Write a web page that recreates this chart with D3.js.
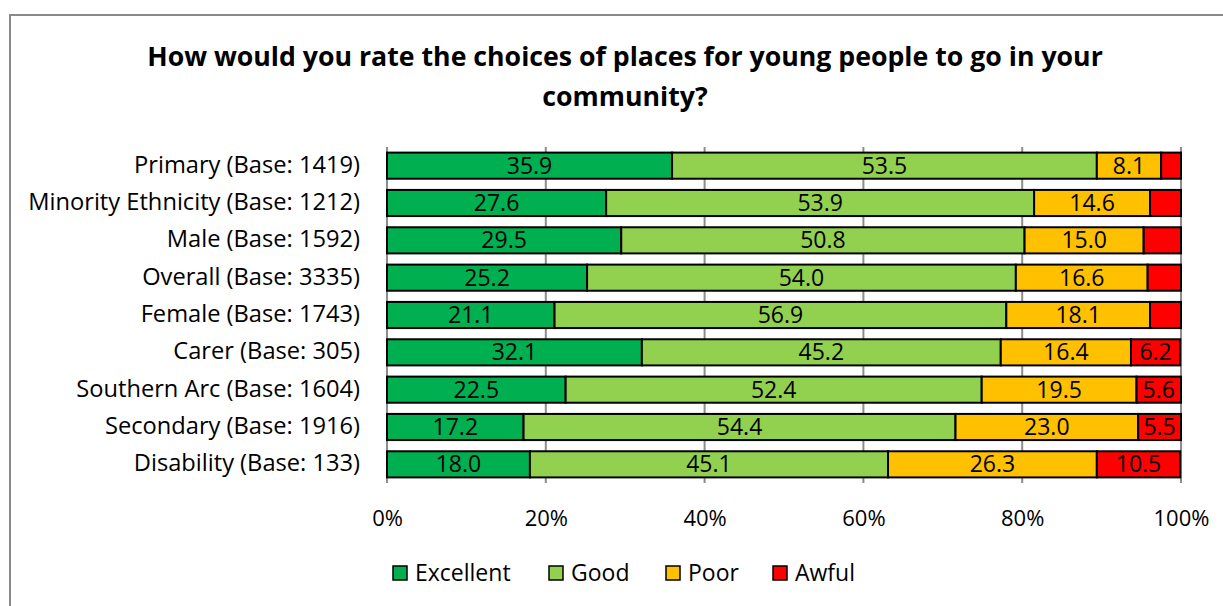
<!DOCTYPE html>
<html>
<head>
<meta charset="utf-8">
<title>Choices of places for young people</title>
<script src="https://cdnjs.cloudflare.com/ajax/libs/d3/7.8.5/d3.min.js"></script>
<style>
  body { margin: 0; background: #fff; }
  svg text { font-family: "Open Sans", Lato, sans-serif; fill: #000; }
</style>
</head>
<body>
<div id="chart"></div>
<script>
// data (percent)
var categories = ["Primary (Base: 1419)", "Minority Ethnicity (Base: 1212)", "Male (Base: 1592)",
  "Overall (Base: 3335)", "Female (Base: 1743)", "Carer (Base: 305)",
  "Southern Arc (Base: 1604)", "Secondary (Base: 1916)", "Disability (Base: 133)"];
var excellent = [35.9, 27.6, 29.5, 25.2, 21.1, 32.1, 22.5, 17.2, 18.0];
var good      = [53.5, 53.9, 50.8, 54.0, 56.9, 45.2, 52.4, 54.4, 45.1];
var poor      = [8.1, 14.6, 15.0, 16.6, 18.1, 16.4, 19.5, 23.0, 26.3];
var awful     = [2.5, 3.9, 4.7, 4.2, 3.9, 6.2, 5.6, 5.5, 10.5];
var seriesNames = ["Excellent", "Good", "Poor", "Awful"];
var tickValues = [0, 20, 40, 60, 80, 100];

var W = 1223, H = 606;
var colors = {Excellent: "#00B050", Good: "#92D050", Poor: "#FFC000", Awful: "#FF0000"};
var margin = {left: 387, right: 42, top: 147, bottom: 123};

var svg = d3.select("#chart").append("svg")
    .attr("width", W).attr("height", H);

// chart frame
svg.append("rect")
    .attr("x", 10).attr("y", 15).attr("width", 1240).attr("height", 620)
    .attr("fill", "#fff").attr("stroke", "#898989").attr("stroke-width", 2);

// title
var title = svg.append("text")
    .attr("text-anchor", "middle")
    .attr("font-size", 25).attr("font-weight", "bold");
title.append("tspan").attr("x", 625).attr("y", 66)
    .text("How would you rate the choices of places for young people to go in your");
title.append("tspan").attr("x", 625).attr("y", 106).text("community?");
// fit the first line to the width it has in the picture
var t1 = title.select("tspan").node().getComputedTextLength();
title.attr("font-size", 25 * 956 / t1);

var rows = categories.map(function(c, i) {
  return {cat: c, Excellent: excellent[i], Good: good[i], Poor: poor[i], Awful: awful[i]};
});

var x = d3.scaleLinear().domain([0, 100]).range([margin.left, W - margin.right]);
var y = d3.scaleBand().domain(categories)
    .range([margin.top, H - margin.bottom]).paddingInner(0.3).paddingOuter(0.15);

// gridlines
svg.append("g").selectAll("line").data(tickValues).enter().append("line")
    .attr("x1", function(d) { return x(d); }).attr("x2", function(d) { return x(d); })
    .attr("y1", margin.top).attr("y2", H - margin.bottom)
    .attr("stroke", "#8c8c8c").attr("stroke-width", 2);

var stack = d3.stack().keys(seriesNames)(rows);

var layers = svg.append("g").selectAll("g").data(stack).enter().append("g")
    .attr("fill", function(d) { return colors[d.key]; });

layers.selectAll("rect").data(function(d) { return d; }).enter().append("rect")
    .attr("x", function(d) { return x(d[0]); })
    .attr("y", function(d) { return y(d.data.cat); })
    .attr("width", function(d) { return x(Math.min(d[1], 100)) - x(d[0]); })
    .attr("height", y.bandwidth())
    .attr("stroke", "#000").attr("stroke-width", 2);

// value labels (small Awful shares are not labelled)
layers.selectAll("text").data(function(d) { return d; }).enter()
  .filter(function(d) { return d[1] - d[0] >= 5; })
  .append("text")
    .attr("x", function(d) { return (x(d[0]) + x(Math.min(d[1], 100))) / 2; })
    .attr("y", function(d) { return y(d.data.cat) + y.bandwidth() / 2 + 8; })
    .attr("text-anchor", "middle").attr("font-size", 23)
    .text(function(d) { return (d[1] - d[0]).toFixed(1); });

// category labels
var catLabels = svg.append("g").attr("font-size", 20);
catLabels.selectAll("text").data(categories).enter().append("text")
    .attr("x", 360).attr("y", function(d) { return y(d) + y.bandwidth() / 2 + 7; })
    .attr("text-anchor", "end")
    .text(function(d) { return d; });
var longest = d3.max(catLabels.selectAll("text").nodes(), function(n) { return n.getComputedTextLength(); });
catLabels.attr("font-size", 20 * 332 / longest);

// x axis
var xAxis = svg.append("g")
    .attr("transform", "translate(0," + (H - margin.bottom) + ")")
    .call(d3.axisBottom(x).tickValues(tickValues).tickSize(0).tickPadding(27)
      .tickFormat(function(d) { return d + "%"; }));
xAxis.select(".domain").remove();
xAxis.selectAll("text").attr("font-size", 22).attr("font-family", "'Open Sans', sans-serif");

// legend
var legendX = [393, 549, 666, 773];
var legend = svg.append("g").selectAll("g").data(seriesNames).enter().append("g")
    .attr("transform", function(d, i) { return "translate(" + legendX[i] + ",566)"; });
legend.append("rect").attr("width", 14).attr("height", 14)
    .attr("fill", function(d) { return colors[d]; })
    .attr("stroke", "#000").attr("stroke-width", 1.5);
legend.append("text").attr("x", 22).attr("y", 15).attr("font-size", 23)
    .text(function(d) { return d; });
</script>
</body>
</html>
